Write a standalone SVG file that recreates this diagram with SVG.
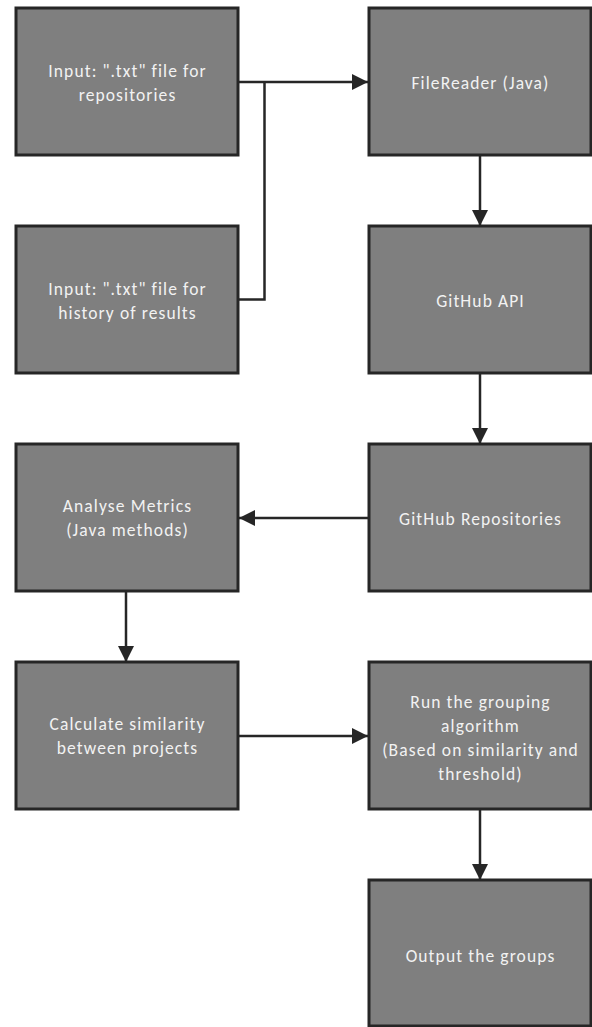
<svg xmlns="http://www.w3.org/2000/svg" width="592" height="1027" viewBox="0 0 592 1027">
<style>
.box{fill:#7f7f7f;stroke:#262626;stroke-width:3}
.t{font-family:Carlito,Lato,"Liberation Sans",sans-serif;font-size:17.5px;letter-spacing:1.1px;fill:#f2f2f2;text-anchor:middle}
.c{fill:none;stroke:#262626;stroke-width:2.5}
</style>
<defs>
<marker id="ah" viewBox="0 0 16 16" refX="16" refY="8" markerWidth="16" markerHeight="16" markerUnits="userSpaceOnUse" orient="auto">
<path d="M0,0 L16,8 L0,16 Z" fill="#262626"/>
</marker>
</defs>
<rect width="592" height="1027" fill="#ffffff"/>
<g id="connectors">
<path class="c" d="M238,82 H368" marker-end="url(#ah)"/>
<path class="c" d="M238,299.5 H264.5 V82"/>
<path class="c" d="M480,155 V226" marker-end="url(#ah)"/>
<path class="c" d="M480,373 V444" marker-end="url(#ah)"/>
<path class="c" d="M369,518 H239" marker-end="url(#ah)"/>
<path class="c" d="M126,591 V662" marker-end="url(#ah)"/>
<path class="c" d="M238,736 H368" marker-end="url(#ah)"/>
<path class="c" d="M480,809 V880" marker-end="url(#ah)"/>
</g>
<g id="input-repos">
<rect class="box" x="16" y="8" width="222" height="147"/>
<text class="t" x="127.5" y="76.5">Input: ".txt" file for</text>
<text class="t" x="127.5" y="100.7">repositories</text>
</g>
<g id="input-history">
<rect class="box" x="16" y="226" width="222" height="147"/>
<text class="t" x="127.5" y="294.5">Input: ".txt" file for</text>
<text class="t" x="127.5" y="318.7">history of results</text>
</g>
<g id="filereader">
<rect class="box" x="369" y="8" width="222" height="147"/>
<text class="t" x="480.5" y="88.5">FileReader (Java)</text>
</g>
<g id="github-api">
<rect class="box" x="369" y="226" width="222" height="147"/>
<text class="t" x="480.5" y="306.7">GitHub API</text>
</g>
<g id="github-repos">
<rect class="box" x="369" y="444" width="222" height="147"/>
<text class="t" x="480.5" y="524.7">GitHub Repositories</text>
</g>
<g id="analyse">
<rect class="box" x="16" y="444" width="222" height="147"/>
<text class="t" x="127.5" y="511.7">Analyse Metrics</text>
<text class="t" x="127.5" y="536">(Java methods)</text>
</g>
<g id="calculate">
<rect class="box" x="16" y="662" width="222" height="147"/>
<text class="t" x="127.5" y="730">Calculate similarity</text>
<text class="t" x="127.5" y="754.3">between projects</text>
</g>
<g id="grouping">
<rect class="box" x="369" y="662" width="222" height="147"/>
<text class="t" x="480.5" y="707.5">Run the grouping</text>
<text class="t" x="480.5" y="731.7">algorithm</text>
<text class="t" x="480.5" y="756">(Based on similarity and</text>
<text class="t" x="480.5" y="780">threshold)</text>
</g>
<g id="output">
<rect class="box" x="369" y="880" width="222" height="146"/>
<text class="t" x="480.5" y="961.7">Output the groups</text>
</g>
</svg>
